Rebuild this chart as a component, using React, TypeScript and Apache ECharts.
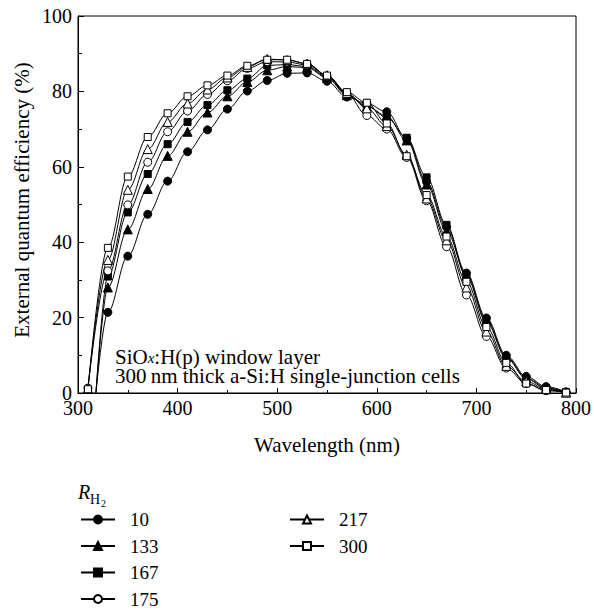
import React, { useEffect, useRef } from "react";
import * as echarts from "echarts";

const wavelengths = [310, 330, 350, 370, 390, 410, 430, 450, 470, 490, 510, 530, 550, 570, 590, 610, 630, 650, 670, 690, 710, 730, 750, 770, 790];

// value where the filled-marker curves leave zero (no marker drawn there)
const onsetWavelength = 318;

const rh2Labels = ["10", "133", "167", "175", "217", "300"];
const rh2Symbols = ["circle", "triangle", "rect", "circle", "triangle", "rect"];
const rh2Filled = [true, true, true, false, false, false];

const eqe10 = [null, 21.4, 36.3, 47.4, 56.2, 64.0, 69.8, 75.3, 80.1, 82.9, 84.8, 84.9, 82.7, 78.5, 76.8, 74.6, 67.5, 56.0, 44.0, 31.8, 19.9, 10.0, 4.4, 1.7, 0.3];
const eqe133 = [null, 28.0, 43.4, 54.1, 62.9, 69.3, 74.4, 78.7, 82.5, 85.6, 86.6, 86.3, 83.6, 79.0, 76.0, 73.5, 67.0, 55.3, 43.0, 31.3, 19.3, 9.6, 4.0, 1.4, 0.2];
const eqe167 = [null, 30.9, 47.9, 58.1, 66.0, 71.9, 76.4, 80.3, 83.4, 86.9, 87.1, 86.6, 83.8, 79.2, 76.2, 73.1, 67.7, 57.2, 44.6, 30.8, 18.8, 9.3, 3.8, 1.2, 0.2];
const eqe175 = [1.3, 32.4, 49.9, 61.2, 69.3, 74.8, 79.2, 82.8, 86.1, 87.9, 87.8, 87.0, 84.0, 79.4, 73.6, 70.0, 62.5, 51.0, 38.8, 26.0, 15.0, 6.6, 2.5, 0.6, 0.2];
const eqe217 = [1.2, 35.3, 53.9, 64.7, 71.9, 76.8, 80.5, 83.7, 86.5, 88.6, 88.3, 87.4, 84.3, 79.6, 75.5, 70.8, 63.2, 51.6, 40.5, 28.0, 16.3, 7.2, 3.1, 1.0, 0.1];
const eqe300 = [1.0, 38.5, 57.4, 67.9, 74.2, 78.7, 81.6, 84.2, 86.8, 88.4, 88.4, 87.3, 84.2, 79.8, 77.0, 71.5, 62.8, 52.5, 41.5, 29.5, 17.5, 8.0, 2.5, 0.8, 0.1];

const allSeries = [eqe10, eqe133, eqe167, eqe175, eqe217, eqe300];

const xTicks = { min: 300, max: 800, interval: 100 };
const yTicks = { min: 0, max: 100, interval: 20 };

const FONT = "Liberation Serif";

function buildData(values: (number | null)[]) {
  const out: any[] = [];
  if (values[0] === null) {
    out.push({ value: [onsetWavelength, 0], symbol: "none" });
  }
  values.forEach((v, i) => {
    if (v !== null) out.push([wavelengths[i], v]);
  });
  return out;
}

export default function App() {
  const ref = useRef<HTMLDivElement>(null);
  useEffect(() => {
    if (!ref.current) return;
    const chart = echarts.init(ref.current, null, { renderer: "svg" });
    const series = allSeries.map((vals, i) => {
      const sym = rh2Symbols[i];
      const size = sym === "triangle" ? 9 : sym === "rect" ? 7 : 8;
      return {
        name: rh2Labels[i],
        type: "line",
        data: buildData(vals),
        smooth: 0.35,
        smoothMonotone: "x",
        symbol: sym,
        symbolSize: size,
        showAllSymbol: true,
        lineStyle: { color: "#000", width: 1 },
        itemStyle: rh2Filled[i]
          ? { color: "#000", borderColor: "#000", borderWidth: 1 }
          : { color: "#fff", borderColor: "#000", borderWidth: 1 },
        emphasis: { disabled: true },
        z: rh2Filled[i] ? 2 : 3,
      };
    });
    const legendCommon = {
      orient: "vertical",
      itemWidth: 34,
      itemHeight: 10,
      itemGap: 7.5,
      padding: 0,
      height: 220,
      selectedMode: false,
      textStyle: { fontFamily: FONT, fontSize: 19, color: "#000", lineHeight: 18, padding: [0, 0, 0, 10] },
    };
    chart.setOption({
      animation: false,
      backgroundColor: "#fff",
      grid: { left: 78, right: 15, top: 16, bottom: 219, show: true, borderColor: "#000", borderWidth: 1, containLabel: false },
      xAxis: {
        type: "value",
        min: xTicks.min,
        max: xTicks.max,
        interval: xTicks.interval,
        name: "Wavelength (nm)",
        nameLocation: "middle",
        nameGap: 41,
        nameTextStyle: { fontFamily: FONT, fontSize: 21, color: "#000" },
        axisLine: { show: true, lineStyle: { color: "#000", width: 1 } },
        axisTick: { show: true, inside: true, length: 5, lineStyle: { color: "#000" } },
        minorTick: { show: true, splitNumber: 2, length: 3, lineStyle: { color: "#000" } },
        axisLabel: { fontFamily: FONT, fontSize: 20, color: "#000", margin: 5 },
        splitLine: { show: false },
      },
      yAxis: {
        type: "value",
        min: yTicks.min,
        max: yTicks.max,
        interval: yTicks.interval,
        axisLine: { show: true, lineStyle: { color: "#000", width: 1 } },
        axisTick: { show: true, inside: true, length: 6, lineStyle: { color: "#000" } },
        minorTick: { show: true, splitNumber: 2, length: 4, lineStyle: { color: "#000" } },
        axisLabel: { fontFamily: FONT, fontSize: 20, color: "#000", margin: 6 },
        splitLine: { show: false },
      },
      legend: [
        { ...legendCommon, data: rh2Labels.slice(0, 4), left: 80, top: 510 },
        { ...legendCommon, data: rh2Labels.slice(4), left: 289, top: 510 },
      ],
      graphic: [
        {
          type: "text",
          x: 22,
          y: 200,
          rotation: Math.PI / 2,
          style: { text: "External quantum efficiency (%)", fontFamily: FONT, fontSize: 21, fill: "#000", align: "center", verticalAlign: "middle" },
        },
        {
          type: "text",
          x: 115,
          y: 357,
          style: {
            text: "SiO{sub|x}:H(p) window layer",
            fontFamily: FONT,
            fontSize: 21,
            lineHeight: 17,
            fill: "#000",
            verticalAlign: "middle",
            rich: {
              sub: { fontFamily: FONT, fontSize: 15, lineHeight: 13, fontStyle: "italic", verticalAlign: "bottom", fill: "#000" },
            },
          },
        },
        {
          type: "text",
          x: 115,
          y: 376,
          style: { text: "300\u2009nm thick a-Si:H single-junction cells", fontFamily: FONT, fontSize: 21, lineHeight: 17, fill: "#000", verticalAlign: "middle" },
        },
        {
          type: "text",
          x: 78,
          y: 492,
          style: { text: "R", fontFamily: FONT, fontSize: 20, fontStyle: "italic", fill: "#000", verticalAlign: "middle" },
        },
        {
          type: "text",
          x: 90,
          y: 499,
          style: { text: "H", fontFamily: FONT, fontSize: 14, fill: "#000", verticalAlign: "middle" },
        },
        {
          type: "text",
          x: 101,
          y: 503,
          style: { text: "2", fontFamily: FONT, fontSize: 10, fill: "#000", verticalAlign: "middle" },
        },
      ],
      series,
    });
    return () => chart.dispose();
  }, []);
  return <div ref={ref} style={{ width: 594, height: 612, position: "absolute", left: 0, top: 0 }} />;
}
